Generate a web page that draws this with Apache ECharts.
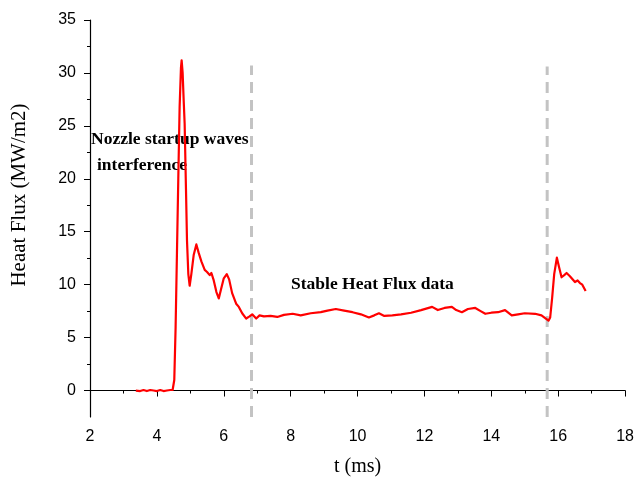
<!DOCTYPE html>
<html>
<head>
<meta charset="utf-8">
<script src="https://cdn.jsdelivr.net/npm/echarts@6/dist/echarts.min.js"></script>
<style>html,body{margin:0;padding:0;background:#fff}#c{width:637px;height:483px}</style>
</head>
<body>
<div id="c"></div>
<script>
var timeMs = [3.37,3.5,3.6,3.7,3.8,3.9,4.0,4.1,4.2,4.3,4.4,4.47,4.52,4.56,4.6,4.64,4.68,4.72,4.74,4.77,4.8,4.83,4.87,4.9,4.94,4.98,5.03,5.1,5.18,5.25,5.33,5.43,5.5,5.58,5.63,5.7,5.78,5.85,5.92,6.0,6.09,6.16,6.25,6.37,6.45,6.55,6.67,6.77,6.85,6.97,7.07,7.2,7.4,7.6,7.8,8.06,8.3,8.6,8.9,9.1,9.35,9.6,9.85,10.1,10.34,10.5,10.64,10.8,11.04,11.3,11.6,11.9,12.23,12.4,12.6,12.82,12.95,13.12,13.3,13.52,13.68,13.82,14.0,14.2,14.41,14.61,14.8,15.0,15.31,15.5,15.71,15.76,15.82,15.88,15.96,16.03,16.1,16.18,16.25,16.35,16.5,16.58,16.65,16.72,16.82];
var heatFlux = [0,-0.05,0.05,-0.05,0.05,0,-0.05,0.05,-0.05,0,0.05,0.05,1,6,13,20,26.8,30.5,31.2,30,27.5,25.2,19,14.2,11,9.9,11,12.8,13.8,13,12.2,11.4,11.2,10.9,11.1,10.4,9.3,8.7,9.6,10.6,11.0,10.5,9.2,8.2,7.9,7.3,6.8,7.0,7.2,6.8,7.1,7.0,7.05,6.95,7.15,7.25,7.1,7.3,7.4,7.55,7.7,7.55,7.4,7.2,6.9,7.1,7.3,7.05,7.1,7.2,7.35,7.6,7.9,7.6,7.8,7.9,7.6,7.4,7.7,7.8,7.5,7.25,7.35,7.4,7.6,7.1,7.2,7.3,7.25,7.1,6.6,6.9,8.8,11,12.55,11.6,10.7,10.9,11.1,10.8,10.25,10.4,10.15,10.0,9.4];
var dividerTimes = [6.83, 15.67];
var dividerTops = [30.7, 30.6];
var yTicks = [0,5,10,15,20,25,30,35];
var yMinorTicks = [2.5,7.5,12.5,17.5,22.5,27.5,32.5];
var yMin = -2.5;

var chart = echarts.init(document.getElementById('c'));
var lineData = timeMs.map(function(t,i){return [t, heatFlux[i]];});
var series = [{
  type:'line', data: lineData, symbol:'none', smooth:false,
  lineStyle:{color:'#ff0000', width:2.2, join:'round'}, z:3, xAxisIndex:0, yAxisIndex:0
}];
dividerTimes.forEach(function(t,i){
  series.push({type:'line', symbol:'none', data:[[t,yMin],[t,dividerTops[i]]],
    lineStyle:{color:'#c3c3c3', width:3, type:[11,7]}, z:2, xAxisIndex:0, yAxisIndex:0});
});
var labelFont = {fontFamily:'Liberation Sans, Arial, sans-serif', fontSize:16, color:'#000'};
chart.setOption({
  animation:false,
  grid:{left:90, right:10, top:20, bottom:66},
  xAxis:{type:'value', min:2, max:18, interval:2,
    axisLine:{lineStyle:{color:'#000', width:1.2}},
    axisTick:{length:6, lineStyle:{color:'#000'}},
    minorTick:{show:true, splitNumber:2, length:3, lineStyle:{color:'#000'}},
    splitLine:{show:false},
    axisLabel:Object.assign({margin:12}, labelFont),
    name:'t (ms)', nameLocation:'middle', nameGap:40,
    nameTextStyle:{fontFamily:'Liberation Serif, Times New Roman, serif', fontSize:20, color:'#000'}
  },
  yAxis:[{type:'value', min:yMin, max:35, interval:2.5,
    axisLine:{show:true, lineStyle:{color:'#000', width:1.2}},
    axisTick:{length:6, lineStyle:{color:'#000'}, customValues:yTicks},
    splitLine:{show:false},
    axisLabel:Object.assign({margin:14, customValues:yTicks}, labelFont)
  },{type:'value', min:yMin, max:35, interval:2.5, position:'left',
    axisLine:{show:false},
    axisTick:{show:true, length:3, lineStyle:{color:'#000'}, customValues:yMinorTicks},
    axisLabel:{show:false}, splitLine:{show:false}
  }],
  graphic:[
    {type:'text', x:19, y:195, rotation:Math.PI/2,
      style:{text:'Heaat Flux (MW/m2)', font:'21px "Liberation Serif", serif', fill:'#000', align:'center', verticalAlign:'middle'}},
    {type:'text', left:91, top:130, style:{text:'Nozzle startup waves', font:'bold 17.5px "Liberation Serif", serif', fill:'#000'}},
    {type:'text', left:97, top:156, style:{text:'interference', font:'bold 17.5px "Liberation Serif", serif', fill:'#000'}},
    {type:'text', left:291, top:275, style:{text:'Stable Heat Flux data', font:'bold 17.5px "Liberation Serif", serif', fill:'#000'}}
  ],
  series:series
});
</script>
</body>
</html>
